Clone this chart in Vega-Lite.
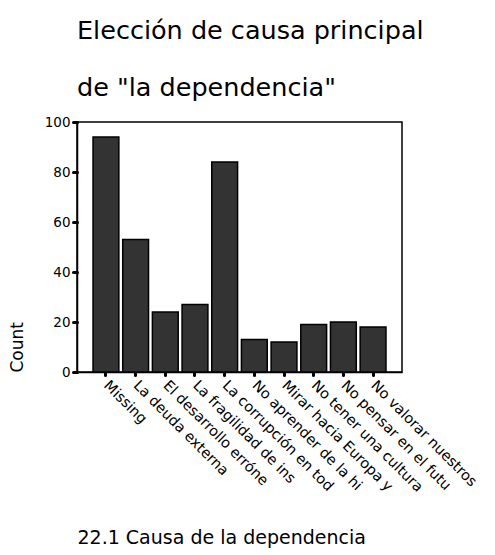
{
  "$schema": "https://vega.github.io/schema/vega-lite/v6.json",
  "autosize": {"type": "none"},
  "padding": {"left": 77, "top": 122, "right": 93, "bottom": 183},
  "width": 325,
  "height": 250,
  "background": "white",
  "title": {
    "text": ["Elección de causa principal", "de \"la dependencia\""],
    "anchor": "start",
    "frame": "group",
    "font": "DejaVu Sans",
    "fontSize": 25.5,
    "fontWeight": "normal",
    "color": "black",
    "lineHeight": 57,
    "baseline": "alphabetic",
    "offset": 25,
    "dy": 31
  },
  "data": {
    "values": [
      {"causa": "Missing", "count": 94},
      {"causa": "La deuda externa", "count": 53},
      {"causa": "El desarrollo erróne", "count": 24},
      {"causa": "La fragilidad de ins", "count": 27},
      {"causa": "La corrupción en tod", "count": 84},
      {"causa": "No aprender de la hi", "count": 13},
      {"causa": "Mirar hacia Europa y", "count": 12},
      {"causa": "No tener una cultura", "count": 19},
      {"causa": "No pensar en el futu", "count": 20},
      {"causa": "No valorar nuestros", "count": 18}
    ]
  },
  "mark": {"type": "bar", "fill": "#333333", "stroke": "black", "strokeWidth": 1.5},
  "encoding": {
    "x": {
      "field": "causa",
      "type": "nominal",
      "sort": null,
      "scale": {"paddingInner": 0.13, "paddingOuter": 0.54},
      "title": "22.1 Causa de la dependencia",
      "axis": {
        "labelAngle": 45,
        "labelAlign": "left",
        "labelBaseline": "middle",
        "labelFont": "DejaVu Sans",
        "labelFontSize": 14.5,
        "labelColor": "black",
        "labelPadding": 8,
        "tickSize": 3,
        "tickWidth": 3,
        "tickCap": "round",
        "tickColor": "black",
        "domainColor": "black",
        "domainWidth": 1.5,
        "titleFont": "DejaVu Sans",
        "titleFontSize": 19,
        "titleFontWeight": "normal",
        "titleColor": "black",
        "titleAnchor": "start",
        "titleAlign": "left",
        "titleBaseline": "alphabetic",
        "titleX": 0,
        "titleY": 171
      }
    },
    "y": {
      "field": "count",
      "type": "quantitative",
      "scale": {"domain": [0, 100]},
      "title": "Count",
      "axis": {
        "values": [0, 20, 40, 60, 80, 100],
        "grid": false,
        "labelFont": "DejaVu Sans",
        "labelFontSize": 13.5,
        "labelColor": "black",
        "labelPadding": 3,
        "tickSize": 4,
        "tickWidth": 3,
        "tickCap": "round",
        "tickColor": "black",
        "domainColor": "black",
        "domainWidth": 1.5,
        "titleFont": "DejaVu Sans",
        "titleFontSize": 17,
        "titleFontWeight": "normal",
        "titleColor": "black",
        "titleAngle": -90,
        "titleAlign": "left",
        "titleBaseline": "alphabetic",
        "titleX": -55,
        "titleY": 250
      }
    }
  },
  "config": {
    "view": {"stroke": "black", "strokeWidth": 1.5}
  }
}
